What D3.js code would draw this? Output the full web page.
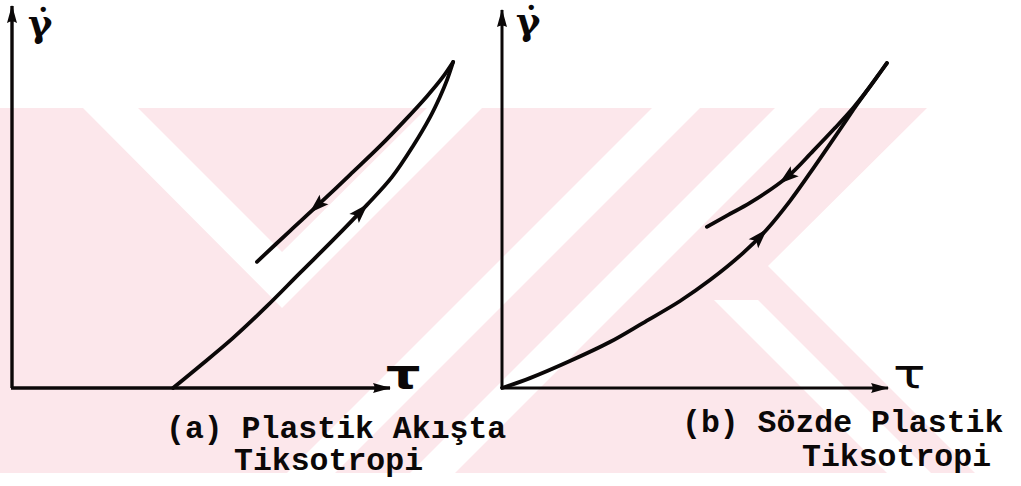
<!DOCTYPE html>
<html>
<head>
<meta charset="utf-8">
<script src="https://cdn.jsdelivr.net/npm/d3@7"></script>
<style>
  html, body { margin: 0; padding: 0; background: #ffffff; }
  svg { display: block; }
</style>
</head>
<body>
<script>
// Shear rate (γ̇) against shear stress (τ), arbitrary units, for two thixotropic fluids.

// (a) plastic flow thixotropy: loading branch starts at a yield stress
const plasticUp = [[4.26,0],[4.97,0.58],[5.85,1.32],[6.75,2.16],[7.62,3.03],[8.49,3.89],
  [9.39,4.82],[10.05,5.55],[10.61,6.37],[11.06,7.13],[11.32,7.66],[11.51,8.11],[11.67,8.58]];
const plasticDown = [[11.67,8.58],[11.38,8.16],[10.98,7.68],[10.40,7.05],[9.74,6.37],
  [8.94,5.61],[8.07,4.79],[7.35,4.13],[6.48,3.32]];

// (b) pseudoplastic thixotropy: loading branch starts at the origin
const pseudoUp = [[0,0],[0.72,0.26],[1.75,0.71],[2.78,1.21],[3.63,1.71],[4.59,2.29],
  [5.36,2.84],[6.21,3.55],[6.83,4.18],[7.42,4.92],[7.94,5.66],[8.40,6.34],[8.79,6.92],
  [9.10,7.39],[9.38,7.79],[9.66,8.18],[9.92,8.55]];
const pseudoDown = [[9.92,8.55],[9.66,8.18],[9.38,7.79],[9.05,7.37],[8.58,6.84],
  [8.02,6.24],[7.35,5.55],[6.39,4.87],[5.82,4.55],[5.28,4.24]];

// where the direction arrows sit along each branch (fraction of path length)
const arrowAt = { plasticUp: 0.60, plasticDown: 0.72, pseudoUp: 0.59, pseudoDown: 0.63 };

const axisLabels = { x: "τ", y: "γ̇" };
const captionA = ["(a) Plastik Akışta", "Tiksotropi"];
const captionB = ["(b) Sözde Plastik", "Tiksotropi"];

const W = 1021, H = 486;
const svg = d3.select("body").append("svg").attr("width", W).attr("height", H);

const ink = "#0b0808";
const tint = "#fce7eb";
const defs = svg.append("defs");

// faint striped emblem behind the drawing
defs.append("clipPath").attr("id", "band")
  .append("rect").attr("x", 0).attr("y", 108).attr("width", W).attr("height", 365);
const emblem = svg.append("g").attr("clip-path", "url(#band)");
emblem.append("rect").attr("x", 0).attr("y", 108).attr("width", W).attr("height", 365).attr("fill", tint);
const gaps = [
  // white chevron on the left
  [[83,108],[138,108],[282,252],[427,108],[482,108],[282,308]],
  // slanted light bands in the middle
  [[652,108],[700,108],[335,473],[287,473]],
  [[775,108],[820,108],[455,473],[410,473]],
  // notch cut into the right edge and the slanted band below it
  [[927,108],[1021,108],[1021,473],[975,473],[768,266]],
  [[714,300],[758,300],[931,473],[887,473]]
];
emblem.selectAll("path.gap").data(gaps).join("path")
  .attr("class", "gap")
  .attr("d", d => "M" + d.map(p => p.join(",")).join("L") + "Z")
  .attr("fill", "#ffffff");

defs.append("marker")
  .attr("id", "axisHead")
  .attr("viewBox", "0 0 18 12")
  .attr("refX", 17).attr("refY", 6)
  .attr("markerUnits", "userSpaceOnUse")
  .attr("markerWidth", 18).attr("markerHeight", 12)
  .attr("orient", "auto")
  .append("path").attr("d", "M0,1 L18,6 L0,11 Q3,6 0,1 Z").attr("fill", ink);

function panel(cfg) {
  const x = d3.scaleLinear().domain([0, 10]).range(cfg.xr);
  const y = d3.scaleLinear().domain([0, 10]).range(cfg.yr);
  const g = svg.append("g");

  // axes with arrowheads
  g.append("line")
    .attr("x1", x(0)).attr("y1", y(0)).attr("x2", x(0)).attr("y2", y(cfg.yTop))
    .attr("stroke", ink).attr("stroke-width", cfg.axisW)
    .attr("marker-end", "url(#axisHead)");
  g.append("line")
    .attr("x1", x(0) - 1).attr("y1", y(0)).attr("x2", x(cfg.xEnd)).attr("y2", y(0))
    .attr("stroke", ink).attr("stroke-width", cfg.axisW)
    .attr("marker-end", "url(#axisHead)");

  const line = d3.line().x(d => x(d[0])).y(d => y(d[1])).curve(d3.curveCatmullRom.alpha(0.5));

  [[cfg.up, cfg.upArrow], [cfg.down, cfg.downArrow]].forEach(([data, frac]) => {
    const p = g.append("path")
      .attr("d", line(data))
      .attr("fill", "none").attr("stroke", ink)
      .attr("stroke-width", 3.8).attr("stroke-linecap", "round").attr("stroke-linejoin", "round");
    const node = p.node();
    const L = node.getTotalLength();
    const a = node.getPointAtLength(L * frac);
    const b = node.getPointAtLength(L * frac + 2);
    const ang = Math.atan2(b.y - a.y, b.x - a.x) * 180 / Math.PI;
    g.append("path")
      .attr("d", "M7,0 L-13,-6.5 L-9,0 L-13,6.5 Z")
      .attr("fill", ink)
      .attr("transform", `translate(${a.x},${a.y}) rotate(${ang})`);
  });

  // axis labels
  g.append("text")
    .attr("x", x(0) + cfg.yLab[0]).attr("y", cfg.yLab[1])
    .attr("font-family", "DejaVu Serif").attr("font-size", 37).attr("font-weight", "bold")
    .attr("fill", ink).text(axisLabels.y);
  g.append("text")
    .attr("x", cfg.xLab[0]).attr("y", cfg.xLab[1])
    .attr("font-family", "DejaVu Sans").attr("font-size", cfg.xLabSize).attr("font-weight", cfg.xLabWeight)
    .attr("fill", ink)
    .attr("transform", `translate(${cfg.xLab[0]},${cfg.xLab[1]}) scale(1.35,1) translate(${-cfg.xLab[0]},${-cfg.xLab[1]})`)
    .text(axisLabels.x);

  // caption
  const cap = g.append("text")
    .attr("font-family", "Liberation Mono").attr("font-size", 31.5).attr("font-weight", "bold")
    .attr("fill", ink);
  cfg.caption.forEach((t, i) => {
    cap.append("tspan").attr("x", cfg.capPos[i][0]).attr("y", cfg.capPos[i][1]).text(t);
  });
}

panel({
  xr: [12, 390], yr: [388, 8], yTop: 10.05, xEnd: 10, axisW: 3.4,
  up: plasticUp, down: plasticDown, upArrow: arrowAt.plasticUp, downArrow: arrowAt.plasticDown,
  yLab: [16, 36], xLab: [386, 388], xLabSize: 40, xLabWeight: "bold",
  caption: captionA, capPos: [[166, 438], [234, 470]]
});

panel({
  xr: [502, 890], yr: [388, 8], yTop: 9.95, xEnd: 9.95, axisW: 3,
  up: pseudoUp, down: pseudoDown, upArrow: arrowAt.pseudoUp, downArrow: arrowAt.pseudoDown,
  yLab: [14, 34], xLab: [893, 388], xLabSize: 40, xLabWeight: "normal",
  caption: captionB, capPos: [[682, 432], [802, 466]]
});
</script>
</body>
</html>
